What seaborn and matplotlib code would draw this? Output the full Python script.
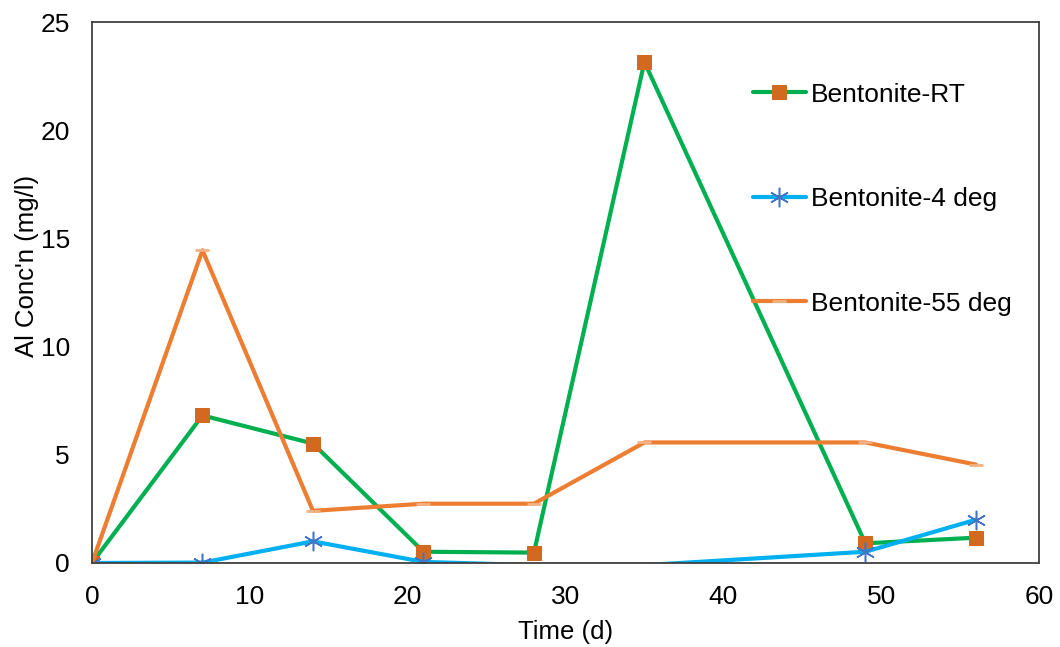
import matplotlib
matplotlib.use("Agg")
import matplotlib.pyplot as plt
import seaborn as sns
import pandas as pd

days = [0, 7, 14, 21, 28, 35, 49, 56]
rt = [0.0, 6.82, 5.52, 0.52, 0.48, 23.15, 0.91, 1.17]
deg4 = [0.0, 0.02, 1.0, 0.05, -0.1, -0.1, 0.52, 2.0]
deg55 = [0.0, 14.45, 2.41, 2.74, 2.74, 5.57, 5.57, 4.55]
labels = ["Bentonite-RT", "Bentonite-4 deg", "Bentonite-55 deg"]
x_ticks = [0, 10, 20, 30, 40, 50, 60]
y_ticks = [0, 5, 10, 15, 20, 25]

sns.set_theme(style="white")
plt.rcParams["font.family"] = ["Liberation Sans", "DejaVu Sans"]
plt.rcParams["text.color"] = "black"
plt.rcParams["axes.labelcolor"] = "black"

fig = plt.figure(figsize=(10.6, 6.47), dpi=100)
ax = fig.add_axes([92 / 1060, 1 - 563 / 647, (1039 - 92) / 1060, (563 - 22) / 647])

df = pd.DataFrame({"d": days, "rt": rt, "d4": deg4, "d55": deg55})
visible4 = [i for i, v in enumerate(deg4) if v >= 0]

sns.lineplot(data=df, x="d", y="rt", ax=ax, color="#00B050", lw=3,
             marker="s", markersize=10, markerfacecolor="#D2691E",
             markeredgecolor="#D2691E", label=labels[0])
sns.lineplot(data=df, x="d", y="d4", ax=ax, color="#00B0F0", lw=3,
             marker=(6, 2, 0), markersize=14, markeredgecolor="#4472C4",
             markeredgewidth=1.1, markevery=visible4, label=labels[1])
sns.lineplot(data=df, x="d", y="d55", ax=ax, color="#ED7D31", lw=3,
             marker="_", markersize=10, markeredgecolor="#F4B183",
             markeredgewidth=2, label=labels[2])

ax.set_xlim(0, 60)
ax.set_ylim(0, 25)
ax.set_xticks(x_ticks)
ax.set_yticks(y_ticks)
ax.tick_params(axis="x", direction="in", length=6, width=1,
               labelsize=19, pad=16, labelcolor="black", color="#333333")
ax.tick_params(axis="y", direction="in", length=6, width=1,
               labelsize=19, pad=16, labelcolor="black", color="#333333")
for s in ax.spines.values():
    s.set_color("#404040")
    s.set_linewidth(1.3)
ax.set_xlabel("Time (d)", fontsize=18.5)
ax.set_ylabel("Al Conc'n (mg/l)", fontsize=18.5)
ax.xaxis.set_label_coords(0.5, -0.105)
ax.yaxis.set_label_coords(-0.056, 0.55)

leg = ax.legend(loc="upper left", bbox_to_anchor=(0.673, 0.932), frameon=False,
                fontsize=19, labelspacing=3.05, handlelength=2.0,
                handletextpad=0.2)

fig.savefig("out.png", dpi=100)
